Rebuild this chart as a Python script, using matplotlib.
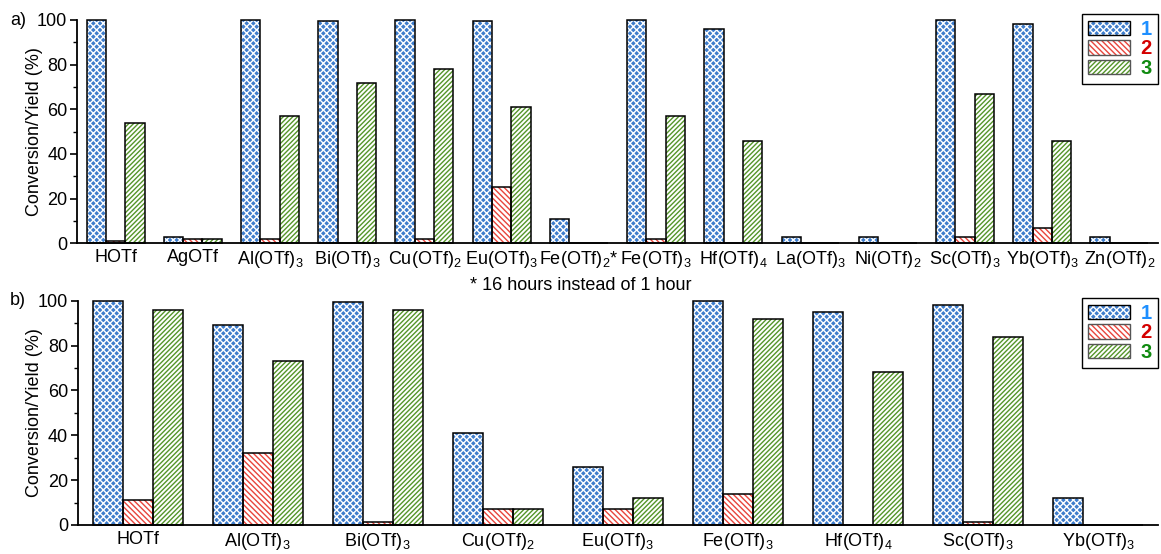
import matplotlib
matplotlib.use("Agg")
import matplotlib.pyplot as plt
import numpy as np
from matplotlib.patches import Patch
from matplotlib.legend_handler import HandlerTuple

plt.rcParams['font.family'] = ['Liberation Sans', 'DejaVu Sans']
plt.rcParams['mathtext.fontset'] = 'custom'
plt.rcParams['mathtext.rm'] = 'Liberation Sans'
plt.rcParams['mathtext.default'] = 'regular'
plt.rcParams['hatch.linewidth'] = 1.0

# ---- Data ----
cats_a = ['HOTf', 'AgOTf', r'Al(OTf)$_3$', r'Bi(OTf)$_3$', r'Cu(OTf)$_2$', r'Eu(OTf)$_3$',
          r'Fe(OTf)$_2$*', r'Fe(OTf)$_3$', r'Hf(OTf)$_4$', r'La(OTf)$_3$', r'Ni(OTf)$_2$',
          r'Sc(OTf)$_3$', r'Yb(OTf)$_3$', r'Zn(OTf)$_2$']
a_1 = [100, 3, 100, 99.5, 100, 99.4, 11, 100, 96, 3, 3, 100, 98, 3]
a_2 = [1, 2, 2, 0, 2, 25, 0, 2, 0, 0, 0, 3, 7, 0]
a_3 = [54, 2, 57, 72, 78, 61, 0, 57, 46, 0, 0, 67, 46, 0]

cats_b = ['HOTf', r'Al(OTf)$_3$', r'Bi(OTf)$_3$', r'Cu(OTf)$_2$', r'Eu(OTf)$_3$',
          r'Fe(OTf)$_3$', r'Hf(OTf)$_4$', r'Sc(OTf)$_3$', r'Yb(OTf)$_3$']
b_1 = [100, 89, 99.5, 41, 26, 100, 95, 98, 12]
b_2 = [11, 32, 1.5, 7, 7, 14, 0, 1.5, 0]
b_3 = [96, 73, 96, 7, 12, 92, 68, 84, 0]

series_labels = ['1', '2', '3']
label_colors = ['#1e8fff', '#d40000', '#108a10']

BLUE = '#3f7dcc'
RED = '#e8453c'
GREEN = '#55952a'
H1 = 'xxxxx'
H2 = '\\' * 6
H3 = '/' * 7
W = 0.25
FS = 13

fig = plt.figure(figsize=(11.61, 5.54), dpi=100)
ax_a = fig.add_axes([0.0663, 0.5608, 0.9311, 0.4031])
ax_b = fig.add_axes([0.0669, 0.0524, 0.9305, 0.4048])


def draw(ax, cats, v1, v2, v3, leg_y):
    x = np.arange(len(cats))
    # series 1: blue with white cross-hatch
    ax.bar(x - W, v1, W, color=BLUE, edgecolor='white', hatch=H1, linewidth=0, zorder=2, clip_on=False)
    ax.bar(x - W, v1, W, facecolor='none', edgecolor='black', linewidth=1.1, zorder=3, clip_on=False)
    # series 2: red back-diagonal
    ax.bar(x, v2, W, color='white', edgecolor=RED, hatch=H2, linewidth=0, zorder=2, clip_on=False)
    ax.bar(x, v2, W, facecolor='none', edgecolor='black', linewidth=1.1, zorder=3, clip_on=False)
    # series 3: green diagonal
    ax.bar(x + W, v3, W, color='white', edgecolor=GREEN, hatch=H3, linewidth=0, zorder=2, clip_on=False)
    ax.bar(x + W, v3, W, facecolor='none', edgecolor='black', linewidth=1.1, zorder=3, clip_on=False)

    ax.set_xlim(-0.5, len(cats) - 0.5)
    ax.set_ylim(0, 100)
    ax.set_xticks(x)
    ax.set_xticklabels(cats, fontsize=FS)
    ax.tick_params(axis='x', length=0, pad=4)
    ax.set_yticks([0, 20, 40, 60, 80, 100])
    ax.set_yticks([10, 30, 50, 70, 90], minor=True)
    ax.tick_params(axis='y', which='major', length=5, width=1.2, labelsize=FS, direction='out', pad=2)
    ax.tick_params(axis='y', which='minor', length=3, width=1.0, direction='out')
    for s in ['top', 'right']:
        ax.spines[s].set_visible(False)
    ax.spines['left'].set_linewidth(1.3)
    ax.spines['bottom'].set_linewidth(1.3)
    ax.set_ylabel('Conversion/Yield (%)', fontsize=FS, labelpad=-4)

    h1 = (Patch(facecolor=BLUE, edgecolor='white', hatch=H1, linewidth=0),
          Patch(facecolor='none', edgecolor='black', linewidth=1.0))
    h2 = (Patch(facecolor='white', edgecolor=RED, hatch=H2, linewidth=0),
          Patch(facecolor='none', edgecolor='#555555', linewidth=1.0))
    h3 = (Patch(facecolor='white', edgecolor=GREEN, hatch=H3, linewidth=0),
          Patch(facecolor='none', edgecolor='#555555', linewidth=1.0))
    leg = ax.legend([h1, h2, h3], series_labels, handler_map={tuple: HandlerTuple(ndivide=1, pad=0)},
                    loc='upper right', bbox_to_anchor=(1.0, leg_y), frameon=True, fancybox=False,
                    edgecolor='black', framealpha=1, handlelength=2.05, handleheight=0.72,
                    handletextpad=0.55, borderpad=0.3, labelspacing=0.02, borderaxespad=0,
                    prop={'weight': 'bold', 'size': 14.5})
    leg.get_frame().set_linewidth(1.0)
    for t, c in zip(leg.get_texts(), label_colors):
        t.set_color(c)


draw(ax_a, cats_a, a_1, a_2, a_3, 1.027)
draw(ax_b, cats_b, b_1, b_2, b_3, 1.012)

fig.text(0.0085, 0.963, 'a)', fontsize=FS, ha='left', va='center')
fig.text(0.0085, 0.457, 'b)', fontsize=FS, ha='left', va='center')
fig.text(0.50, 0.484, '* 16 hours instead of 1 hour', fontsize=FS, ha='center', va='center')

fig.savefig('out.png', dpi=100)
